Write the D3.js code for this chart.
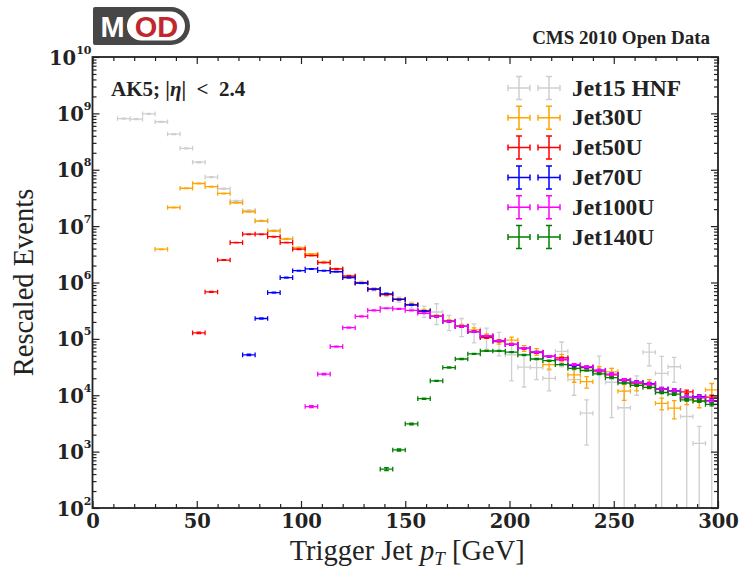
<!DOCTYPE html>
<html><head><meta charset="utf-8">
<script src="https://cdn.jsdelivr.net/npm/d3@7"></script>
<style>body{margin:0;background:#fff}svg{display:block}</style>
</head><body>
<svg id="c" width="742" height="572"></svg>
<script>
// ---------------- DATA ----------------
const binWidth = 6; // GeV
const xTicks = [0, 50, 100, 150, 200, 250, 300];
const yExponents = [2, 3, 4, 5, 6, 7, 8, 9, 10];
const legendLabels = ["Jet15 HNF", "Jet30U", "Jet50U", "Jet70U", "Jet100U", "Jet140U"];
const seriesColors = ["#cfcfcf", "#ffa500", "#ff0000", "#0000ff", "#ff00ff", "#008000"];

// rows: [bin low edge (GeV), events, abs. error]
const jet15HNF = [
 [12,8.1e8,1.5e7],[18,7.9e8,1.5e7],[24,9.8e8,2e7],[30,7.1e8,1.4e7],[36,4.3e8,9e6],[42,2.4e8,5e6],
 [48,1.36e8,3e6],[54,7.4e7,1.5e6],[60,4.6e7,1e6],[66,2.8e7,6e5],[72,1.9e7,4e5],[78,1.25e7,3e5],
 [84,8.4e6,2e5],[90,6.0e6,1.5e5],[96,4.2e6,1.2e5],[102,3.15e6,1e5],[108,2.3e6,8e4],[114,1.75e6,7e4],
 [120,1.3e6,6e4],[126,1.0e6,6e4],[132,7.6e5,5e4],[138,6.1e5,5e4],[144,5.0e5,5e4],[150,4.0e5,5e4],
 [156,3.1e5,7e4],[162,3.0e5,1.2e5],[168,2.0e5,6e4],[174,1.7e5,6e4],[180,1.35e5,5e4],[186,1.1e5,4.5e4],
 [192,9.0e4,4e4],[198,5.2e4,3.4e4],[204,3.15e4,1.75e4],[210,3.1e4,1.2e4],[216,2.0e4,8e3],[222,6.0e4,2.8e4],
 [228,1.9e4,9e3],[234,4.8e3,3.5e3],[240,2.5e4,2.5e4],[246,1.7e4,1.3e4],[252,6.0e3,6e3],[258,1.6e4,6e3],
 [264,5.8e4,2.5e4],[270,2.45e4,2.45e4],[276,3.2e4,1.5e4],[282,4.2e3,4.2e3],[288,1.4e3,1.4e3],[294,8.0e3,7.9e3]
];
const jet30U = [
 [30,3.9e6,6e4],[36,2.14e7,3e5],[42,4.7e7,6e5],[48,5.7e7,7e5],[54,5.0e7,6e5],[60,3.8e7,4.5e5],
 [66,2.6e7,3e5],[72,1.8e7,2e5],[78,1.23e7,1.4e5],[84,8.2e6,1e5],[90,5.9e6,7e4],[96,4.1e6,5e4],
 [102,3.2e6,4e4],[108,2.3e6,3e4],[114,1.74e6,2.5e4],[120,1.3e6,2e4],[126,1.0e6,1.8e4],[132,7.7e5,1.6e4],
 [138,6.2e5,1.5e4],[144,5.1e5,1.4e4],[150,4.1e5,1.3e4],[156,3.2e5,1.2e4],[162,2.55e5,1.1e4],[168,2.1e5,1e4],
 [174,1.7e5,1e4],[180,1.45e5,1.2e4],[186,1.12e5,1e4],[192,8.9e4,8e3],[198,9.5e4,1.2e4],[204,6.8e4,8e3],
 [210,5.9e4,8e3],[216,3.5e4,6e3],[222,4.6e4,7e3],[228,2.3e4,6e3],[234,1.74e4,4e3],[240,2.8e4,4e3],
 [246,2.6e4,4e3],[252,1.18e4,3.7e3],[258,1.5e4,3e3],[264,1.6e4,3e3],[270,7.2e3,1.7e3],[276,5.9e3,2.1e3],
 [282,9.0e3,2.2e3],[288,7.8e3,1.8e3],[294,1.25e4,3.8e3]
];
const jet50U = [
 [48,1.28e5,4e3],[54,6.8e5,1.4e4],[60,2.5e6,4e4],[66,5.1e6,7e4],[72,7.2e6,1e5],[78,7.2e6,1e5],
 [84,6.5e6,9e4],[90,5.1e6,7e4],[96,3.9e6,5e4],[102,3.0e6,4e4],[108,2.25e6,3e4],[114,1.74e6,2.5e4],
 [120,1.3e6,2e4],[126,9.8e5,1.5e4],[132,7.6e5,1.2e4],[138,6.1e5,1e4],[144,5.0e5,8e3],[150,4.0e5,7e3],
 [156,3.1e5,6e3],[162,2.5e5,5e3],[168,2.05e5,4e3],[174,1.66e5,3.5e3],[180,1.35e5,3e3],[186,1.05e5,2.6e3],
 [192,9.2e4,2.4e3],[198,8.0e4,2.2e3],[204,6.8e4,2e3],[210,5.7e4,1.8e3],[216,4.9e4,1.6e3],[222,4.6e4,1.6e3],
 [228,3.4e4,1.3e3],[234,3.1e4,1.3e3],[240,2.7e4,1.2e3],[246,2.3e4,1.1e3],[252,1.85e4,1e3],[258,1.65e4,9e2],
 [264,1.55e4,9e2],[270,1.27e4,8e2],[276,1.2e4,8e2],[282,1.15e4,8e2],[288,9.0e3,7e2],[294,9.3e3,7e2]
];
const jet70U = [
 [72,5.2e4,1.5e3],[78,2.3e5,5e3],[84,6.6e5,1.2e4],[90,1.22e6,2e4],[96,1.62e6,2.5e4],[102,1.74e6,2.5e4],
 [108,1.62e6,2.4e4],[114,1.55e6,2.2e4],[120,1.22e6,1.8e4],[126,9.8e5,1.5e4],[132,7.6e5,1.2e4],[138,6.3e5,1e4],
 [144,5.0e5,8e3],[150,4.0e5,7e3],[156,3.1e5,6e3],[162,2.5e5,5e3],[168,2.05e5,4e3],[174,1.67e5,3.5e3],
 [180,1.35e5,3e3],[186,1.12e5,2.6e3],[192,9.2e4,2.4e3],[198,8.0e4,2.2e3],[204,6.8e4,2e3],[210,5.8e4,1.8e3],
 [216,4.9e4,1.6e3],[222,4.3e4,1.5e3],[228,3.4e4,1.3e3],[234,3.15e4,1.3e3],[240,2.75e4,1.2e3],[246,2.35e4,1.1e3],
 [252,1.85e4,1e3],[258,1.7e4,9e2],[264,1.6e4,9e2],[270,1.3e4,8e2],[276,1.2e4,8e2],[282,9.3e3,7e2],
 [288,9.4e3,7e2],[294,8.0e3,6e2]
];
const jet100U = [
 [102,6.3e3,2.5e2],[108,2.37e4,6e2],[114,7.3e4,1.5e3],[120,1.58e5,3e3],[126,2.5e5,4.5e3],[132,3.2e5,5.5e3],
 [138,3.5e5,6e3],[144,3.4e5,6e3],[150,3.2e5,5.5e3],[156,2.85e5,5e3],[162,2.5e5,4.5e3],[168,2.05e5,4e3],
 [174,1.66e5,3.5e3],[180,1.35e5,3e3],[186,1.13e5,2.6e3],[192,9.2e4,2.4e3],[198,8.0e4,2.2e3],[204,6.8e4,2e3],
 [210,5.8e4,1.8e3],[216,4.9e4,1.6e3],[222,4.3e4,1.5e3],[228,3.5e4,1.3e3],[234,3.2e4,1.3e3],[240,2.75e4,1.2e3],
 [246,2.35e4,1.1e3],[252,1.86e4,1e3],[258,1.68e4,9e2],[264,1.58e4,9e2],[270,1.28e4,8e2],[276,1.2e4,8e2],
 [282,9.1e3,7e2],[288,9.2e3,7e2],[294,7.9e3,6e2]
];
const jet140U = [
 [138,4.9e2,3e1],[144,1.07e3,5e1],[150,3.1e3,1e2],[156,8.7e3,2e2],[162,1.8e4,4e2],[168,3.1e4,7e2],
 [174,4.4e4,9e2],[180,5.4e4,1.1e3],[186,6.1e4,1.2e3],[192,6.1e4,1.2e3],[198,5.8e4,1.2e3],[204,5.2e4,1.1e3],
 [210,4.4e4,1e3],[216,4.1e4,1e3],[222,3.5e4,9e2],[228,3.0e4,8e2],[234,2.75e4,8e2],[240,2.4e4,7e2],
 [246,2.05e4,7e2],[252,1.65e4,6e2],[258,1.5e4,6e2],[264,1.38e4,6e2],[270,1.12e4,5e2],[276,1.05e4,5e2],
 [282,8.3e3,4.5e2],[288,7.9e3,4.5e2],[294,6.9e3,4e2]
];
const seriesData = [jet15HNF, jet30U, jet50U, jet70U, jet100U, jet140U];

// ---------------- LAYOUT ----------------
const P = {left: 92.5, right: 718, top: 57, bottom: 508};
const ink = "#222";
const x = d3.scaleLinear().domain([0, 300]).range([P.left, P.right]);
const y = d3.scaleLog().domain([1e2, 1e10]).range([P.bottom, P.top]);
const svg = d3.select("#c");

svg.append("defs").append("clipPath").attr("id", "clip")
  .append("rect").attr("x", P.left).attr("y", P.top)
  .attr("width", P.right - P.left).attr("height", P.bottom - P.top);

// ---------------- DATA MARKS ----------------
const cap = 2.3;
const plot = svg.append("g").attr("clip-path", "url(#clip)");
seriesData.forEach((rows, i) => {
  const p = d3.path();
  rows.forEach(([lo, v, e]) => {
    const x0 = x(lo), x1 = x(lo + binWidth), xc = (x0 + x1) / 2;
    const yc = y(v), yt = y(v + e);
    const yb = (v - e) > 0 ? y(v - e) : P.bottom + 30;
    p.moveTo(x0, yc); p.lineTo(x1, yc);
    p.moveTo(x0, yc - cap); p.lineTo(x0, yc + cap);
    p.moveTo(x1, yc - cap); p.lineTo(x1, yc + cap);
    p.moveTo(xc, yt); p.lineTo(xc, yb);
    p.moveTo(xc - cap, yt); p.lineTo(xc + cap, yt);
    p.moveTo(xc - cap, yb); p.lineTo(xc + cap, yb);
  });
  plot.append("path").attr("d", p.toString()).attr("fill", "none")
    .attr("stroke", seriesColors[i]).attr("stroke-width", 1.3);
});

// ---------------- AXES ----------------
const tickFont = "'DejaVu Serif', serif";
const minorX = d3.range(0, 301, 10).filter(v => v % 50 !== 0);
const minorY = [];
yExponents.slice(0, -1).forEach(k => { for (let m = 2; m <= 9; m++) minorY.push(m * Math.pow(10, k)); });

function styleAxis(g) {
  g.select(".domain").remove();
  g.selectAll(".tick line").attr("stroke", ink).attr("stroke-width", 1.2);
}
// bottom
svg.append("g").attr("transform", `translate(0,${P.bottom})`)
  .call(d3.axisBottom(x).tickValues(xTicks).tickSize(-7).tickPadding(5).tickFormat(d3.format("d")))
  .call(styleAxis)
  .call(g => g.selectAll("text").attr("font-family", tickFont).attr("font-weight", "bold")
     .attr("font-size", 19.5).attr("fill", ink).attr("y", 5).attr("dy", "0.76em"));
svg.append("g").attr("transform", `translate(0,${P.bottom})`)
  .call(d3.axisBottom(x).tickValues(minorX).tickSize(-4).tickFormat("")).call(styleAxis);
// top
svg.append("g").attr("transform", `translate(0,${P.top})`)
  .call(d3.axisTop(x).tickValues(xTicks).tickSize(-7).tickFormat("")).call(styleAxis);
svg.append("g").attr("transform", `translate(0,${P.top})`)
  .call(d3.axisTop(x).tickValues(minorX).tickSize(-4).tickFormat("")).call(styleAxis);
// left
const yMajor = yExponents.map(k => Math.pow(10, k));
svg.append("g").attr("transform", `translate(${P.left},0)`)
  .call(d3.axisLeft(y).tickValues(yMajor).tickSize(-7).tickPadding(1).tickFormat(""))
  .call(styleAxis)
  .call(g => g.selectAll(".tick").each(function(d) {
     const t = d3.select(this).append("text").attr("fill", ink).attr("font-family", tickFont)
       .attr("font-weight", "bold").attr("text-anchor", "end").attr("x", -1).attr("y", 7);
     t.append("tspan").attr("font-size", 19.5).text("10");
     t.append("tspan").attr("font-size", 11).attr("dy", -11).text(Math.round(Math.log10(d)));
  }));
svg.append("g").attr("transform", `translate(${P.left},0)`)
  .call(d3.axisLeft(y).tickValues(minorY).tickSize(-4).tickFormat("")).call(styleAxis);
// right
svg.append("g").attr("transform", `translate(${P.right},0)`)
  .call(d3.axisRight(y).tickValues(yMajor).tickSize(-7).tickFormat("")).call(styleAxis);
svg.append("g").attr("transform", `translate(${P.right},0)`)
  .call(d3.axisRight(y).tickValues(minorY).tickSize(-4).tickFormat("")).call(styleAxis);

// frame
svg.append("rect").attr("x", P.left).attr("y", P.top)
  .attr("width", P.right - P.left).attr("height", P.bottom - P.top)
  .attr("fill", "none").attr("stroke", ink).attr("stroke-width", 1.8);

// ---------------- LABELS ----------------
const labFont = "'Liberation Serif', 'Times New Roman', serif";
const xl = svg.append("text").attr("x", (P.left + P.right) / 2 + 2).attr("y", 560)
  .attr("text-anchor", "middle").attr("font-family", labFont).attr("font-size", 28.5).attr("fill", ink);
xl.append("tspan").text("Trigger Jet ");
xl.append("tspan").attr("font-style", "italic").text("p");
xl.append("tspan").attr("font-style", "italic").attr("font-size", 19).attr("dy", 5).text("T");
xl.append("tspan").attr("dy", -5).text(" [GeV]");

svg.append("text").attr("transform", `translate(33,${(P.top + P.bottom) / 2}) rotate(-90)`)
  .attr("text-anchor", "middle").attr("font-family", labFont).attr("font-size", 28.5).attr("fill", ink)
  .text("Rescaled Events");

svg.append("text").attr("x", 710).attr("y", 43.5).attr("text-anchor", "end")
  .attr("font-family", labFont).attr("font-weight", "bold").attr("font-size", 19).attr("fill", ink)
  .text("CMS 2010 Open Data");

const ak = svg.append("text").attr("x", 111).attr("y", 95.5).style("white-space", "pre")
  .attr("font-family", labFont).attr("font-weight", "bold").attr("font-size", 21).attr("fill", ink);
ak.append("tspan").text("AK5; |");
ak.append("tspan").attr("font-style", "italic").text("η");
ak.append("tspan").text("|  <  2.4");

// ---------------- LEGEND ----------------
const leg = svg.append("g");
legendLabels.forEach((lab, i) => {
  const cy = 88 + i * 29.8;
  [519, 549].forEach(cx => {
    const p = d3.path();
    const hw = 11, hh = 11.5, c = 3;
    p.moveTo(cx - hw, cy); p.lineTo(cx + hw, cy);
    p.moveTo(cx - hw, cy - c); p.lineTo(cx - hw, cy + c);
    p.moveTo(cx + hw, cy - c); p.lineTo(cx + hw, cy + c);
    p.moveTo(cx, cy - hh); p.lineTo(cx, cy + hh);
    p.moveTo(cx - c, cy - hh); p.lineTo(cx + c, cy - hh);
    p.moveTo(cx - c, cy + hh); p.lineTo(cx + c, cy + hh);
    leg.append("path").attr("d", p.toString()).attr("fill", "none")
      .attr("stroke", seriesColors[i]).attr("stroke-width", 1.5);
  });
  leg.append("text").attr("x", 572).attr("y", cy + 7.5)
    .attr("font-family", labFont).attr("font-weight", "bold").attr("font-size", 23.5).attr("fill", ink)
    .text(lab);
});

// ---------------- LOGO ----------------
const logo = svg.append("g");
logo.append("path")
  .attr("d", "M95,7 H171 A19,19 0 0 1 171,45 H95 A2,2 0 0 1 93,43 V9 A2,2 0 0 1 95,7 Z")
  .attr("fill", "#474747");
logo.append("rect").attr("x", 127).attr("y", 11.5).attr("width", 58).attr("height", 29)
  .attr("rx", 14.5).attr("fill", "#fff");
logo.append("text").attr("x", 112.5).attr("y", 37).attr("text-anchor", "middle")
  .attr("font-family", "'Liberation Sans', Arial, sans-serif").attr("font-weight", "bold")
  .attr("font-size", 29).attr("fill", "#fff").text("M");
logo.append("text").attr("x", 156.5).attr("y", 37).attr("text-anchor", "middle")
  .attr("font-family", "'Liberation Sans', Arial, sans-serif").attr("font-weight", "bold")
  .attr("font-size", 29).attr("fill", "#c0282d").text("OD");
</script>
</body></html>
